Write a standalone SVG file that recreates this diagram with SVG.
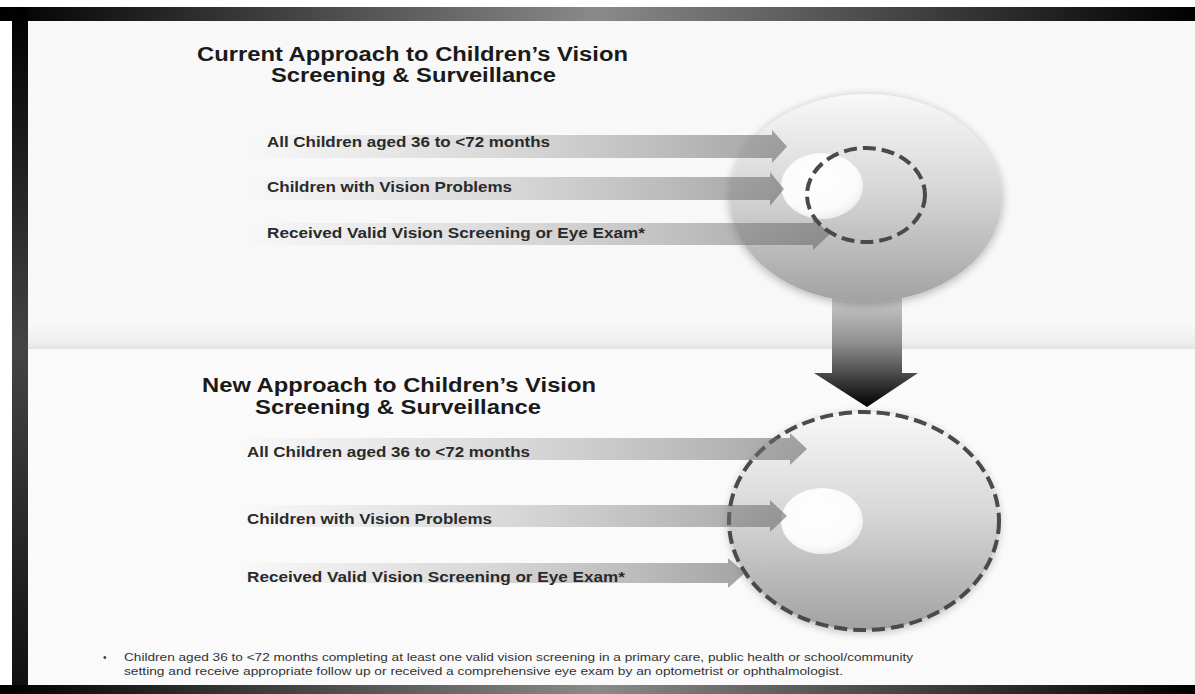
<svg xmlns="http://www.w3.org/2000/svg" width="1195" height="694" viewBox="0 0 1195 694">
<defs>
<style>
.title{font-family:"Liberation Sans",Arial,sans-serif;font-weight:bold;font-size:20px;fill:#1a1a1a}
.lbl{font-family:"Liberation Sans",Arial,sans-serif;font-weight:bold;font-size:14px;fill:#2a2a2a}
.foot{font-family:"Liberation Sans",Arial,sans-serif;font-size:10px;fill:#333}
.arr{fill:url(#arrG)}
.dash{fill:none;stroke:#4a4a4a;stroke-width:4;stroke-dasharray:13 6}
</style>
<linearGradient id="barG" x1="0" y1="0" x2="1" y2="0">
<stop offset="0" stop-color="#000"/><stop offset="0.5" stop-color="#8a8a8a"/><stop offset="1" stop-color="#000"/>
</linearGradient>
<linearGradient id="leftG" x1="0" y1="0" x2="0" y2="1">
<stop offset="0" stop-color="#000"/><stop offset="0.5" stop-color="#444"/><stop offset="1" stop-color="#111"/>
</linearGradient>
<linearGradient id="divG" x1="0" y1="0" x2="0" y2="1">
<stop offset="0" stop-color="#f8f8f8"/><stop offset="0.75" stop-color="#efefef"/><stop offset="1" stop-color="#e2e2e2"/>
</linearGradient>
<linearGradient id="arrG" x1="0" y1="0" x2="1" y2="0">
<stop offset="0" stop-color="#808080" stop-opacity="0"/><stop offset="0.5" stop-color="#808080" stop-opacity="0.28"/><stop offset="1" stop-color="#6a6a6a" stop-opacity="0.6"/>
</linearGradient>
<linearGradient id="circG" x1="0" y1="0" x2="0" y2="1">
<stop offset="0" stop-color="#f8f8f8"/><stop offset="0.45" stop-color="#d8d8d8"/><stop offset="1" stop-color="#a2a2a2"/>
</linearGradient>
<radialGradient id="whiteG" cx="0.45" cy="0.4" r="0.6">
<stop offset="0" stop-color="#ffffff"/><stop offset="0.8" stop-color="#fbfbfb"/><stop offset="1" stop-color="#eeeeee"/>
</radialGradient>
<linearGradient id="downG" x1="0" y1="0" x2="0" y2="1">
<stop offset="0" stop-color="#d4d4d4"/><stop offset="0.45" stop-color="#909090"/><stop offset="1" stop-color="#000"/>
</linearGradient>
<filter id="glow" x="-20%" y="-20%" width="140%" height="140%">
<feGaussianBlur in="SourceAlpha" stdDeviation="5"/>
<feOffset dx="0" dy="2" result="b"/>
<feComponentTransfer><feFuncA type="linear" slope="0.3"/></feComponentTransfer>
<feMerge><feMergeNode/><feMergeNode in="SourceGraphic"/></feMerge>
</filter>
</defs>

<!-- frame -->
<g id="frame">
<rect x="0" y="0" width="1195" height="694" fill="#ffffff"/>
<rect x="28" y="21" width="1167" height="664" fill="#f8f8f8"/>
<rect x="28" y="322" width="1167" height="27" fill="url(#divG)"/>
<rect x="28" y="349" width="1167" height="336" fill="#fafafa"/>
<rect x="0" y="7" width="1195" height="14" fill="url(#barG)"/>
<rect x="0" y="685" width="1195" height="9" fill="url(#barG)"/>
<rect x="12" y="7" width="16" height="678" fill="url(#leftG)"/>
</g>

<!-- upper panel -->
<g id="title-current">
<text class="title" x="197" y="61" textLength="431" lengthAdjust="spacingAndGlyphs">Current Approach to Children’s Vision</text>
<text class="title" x="271" y="82" textLength="285" lengthAdjust="spacingAndGlyphs">Screening &amp; Surveillance</text>
</g>

<g id="down-arrow">
<path d="M832,290 H902 V373 H918 L867,407 L814,373 H832 Z" fill="url(#downG)"/>
</g>

<g id="circle-current">
<ellipse cx="866" cy="198" rx="136" ry="104" fill="url(#circG)" filter="url(#glow)"/>
<ellipse cx="822" cy="186" rx="41" ry="33" fill="url(#whiteG)"/>
</g>

<g id="connectors-current">
<path class="arr" d="M245,135 H772 V130 L787,146.5 L772,163 V158 H245 Z"/>
<path class="arr" d="M245,177 H770 V172 L784,189 L770,206 V200 H245 Z"/>
<path class="arr" d="M245,223 H813 V218 L830,234 L813,250 V245 H245 Z"/>
</g>

<g id="dashed-current">
<ellipse class="dash" cx="866" cy="195" rx="59" ry="47"/>
</g>

<g id="labels-current">
<text class="lbl" x="267" y="147" textLength="283" lengthAdjust="spacingAndGlyphs">All Children aged 36 to &lt;72 months</text>
<text class="lbl" x="267" y="192" textLength="245" lengthAdjust="spacingAndGlyphs">Children with Vision Problems</text>
<text class="lbl" x="267" y="238" textLength="378" lengthAdjust="spacingAndGlyphs">Received Valid Vision Screening or Eye Exam*</text>
</g>

<!-- lower panel -->
<g id="title-new">
<text class="title" x="202" y="392" textLength="394" lengthAdjust="spacingAndGlyphs">New Approach to Children’s Vision</text>
<text class="title" x="255" y="414" textLength="286" lengthAdjust="spacingAndGlyphs">Screening &amp; Surveillance</text>
</g>

<g id="circle-new">
<ellipse cx="864" cy="521" rx="135" ry="109" fill="url(#circG)" filter="url(#glow)"/>
<ellipse class="dash" cx="864" cy="521" rx="135" ry="109"/>
<ellipse cx="822" cy="521" rx="41" ry="33" fill="url(#whiteG)"/>
</g>

<g id="connectors-new">
<path class="arr" d="M232,438 H790 V433 L807,449 L790,465 V460 H232 Z"/>
<path class="arr" d="M232,505 H770 V500 L787,516 L770,532 V527 H232 Z"/>
<path class="arr" d="M232,563 H728 V558 L745,573 L728,588 V583 H232 Z"/>
</g>

<g id="labels-new">
<text class="lbl" x="247" y="457" textLength="283" lengthAdjust="spacingAndGlyphs">All Children aged 36 to &lt;72 months</text>
<text class="lbl" x="247" y="524" textLength="245" lengthAdjust="spacingAndGlyphs">Children with Vision Problems</text>
<text class="lbl" x="247" y="582" textLength="378" lengthAdjust="spacingAndGlyphs">Received Valid Vision Screening or Eye Exam*</text>
</g>

<g id="footnote">
<text class="foot" x="103" y="661">•</text>
<text class="foot" x="124" y="661" textLength="789" lengthAdjust="spacingAndGlyphs">Children aged 36 to &lt;72 months completing at least one valid vision screening in a primary care, public health or school/community</text>
<text class="foot" x="124" y="675" textLength="719" lengthAdjust="spacingAndGlyphs">setting and receive appropriate follow up or received a comprehensive eye exam by an optometrist or ophthalmologist.</text>
</g>
</svg>
